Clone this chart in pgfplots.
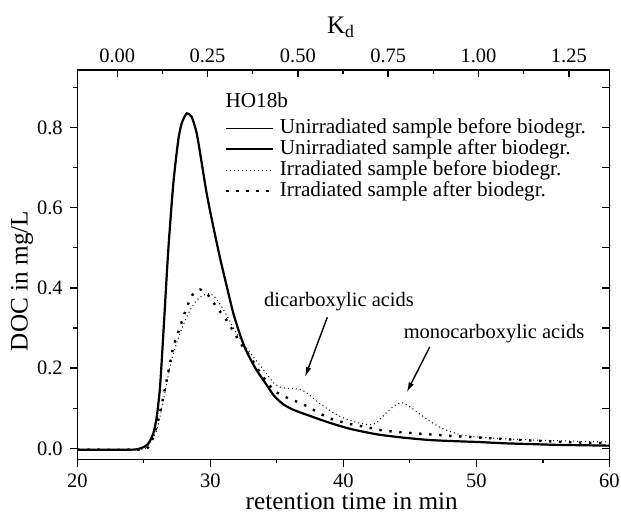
\documentclass[border=0pt]{standalone}
\usepackage{fontspec}
\setmainfont{Liberation Serif}
\usepackage{pgfplots}
\usepackage{pgfplotstable}
\pgfplotsset{compat=1.18}
\usetikzlibrary{arrows.meta}

\newcommand{\tickfont}{\fontsize{10.25}{12}\selectfont}
\newcommand{\legfont}{\fontsize{10.6}{12}\selectfont}
\newcommand{\labfont}{\fontsize{12.6}{14}\selectfont}

\pgfplotstableread{
t v
20 -0.003
22 -0.003
24 -0.003
24.5 -0.002
24.96 0.003
25.34 0.012
25.71 0.037
25.97 0.078
26.22 0.153
26.47 0.286
26.84 0.494
27.22 0.660
27.59 0.768
27.85 0.810
28.23 0.835
28.6 0.826
28.98 0.785
29.35 0.712
29.73 0.635
30.23 0.552
30.73 0.475
31.23 0.405
31.73 0.337
32.23 0.284
32.6 0.251
32.98 0.225
33.5 0.194
34.24 0.158
34.8 0.131
35.49 0.110
36.2 0.097
36.74 0.090
37.5 0.081
38.25 0.072
39.25 0.061
40.5 0.049
41.76 0.040
42.76 0.034
44.5 0.027
46.5 0.021
48.5 0.018
50.2 0.016
52 0.013
54 0.011
56 0.009
58 0.008
60 0.007
}\unirrbefore

\pgfplotstableread{
t v
20 -0.003
22 -0.003
24 -0.003
24.5 -0.002
24.96 0.003
25.34 0.012
25.71 0.037
25.97 0.078
26.22 0.153
26.47 0.286
26.84 0.494
27.22 0.660
27.59 0.768
27.85 0.810
28.23 0.835
28.6 0.826
28.98 0.785
29.35 0.712
29.73 0.635
30.23 0.552
30.73 0.475
31.23 0.405
31.73 0.337
32.23 0.284
32.6 0.251
32.98 0.225
33.5 0.194
34.24 0.158
34.8 0.131
35.49 0.110
36.2 0.097
36.74 0.090
37.5 0.081
38.25 0.072
39.25 0.061
40.5 0.049
41.76 0.040
42.76 0.034
44.5 0.027
46.5 0.021
48.5 0.018
50.2 0.016
52 0.013
54 0.011
56 0.009
58 0.008
60 0.007
}\unirrafter

\pgfplotstableread{
t v
20 -0.003
24 -0.003
25.0 -0.002
25.47 0.015
25.97 0.045
26.47 0.120
26.97 0.203
27.35 0.250
27.72 0.286
28.1 0.318
28.47 0.344
28.85 0.364
29.23 0.377
29.6 0.384
29.98 0.386
30.35 0.377
30.73 0.360
31.23 0.332
31.73 0.301
32.48 0.262
33.23 0.228
33.74 0.207
34.24 0.186
34.74 0.164
35.24 0.153
35.74 0.150
36.24 0.149
36.74 0.147
37.2 0.140
37.6 0.129
38.1 0.115
38.75 0.100
39.3 0.088
39.75 0.080
40.5 0.070
41.25 0.063
42.0 0.059
42.5 0.064
42.9 0.078
43.5 0.097
44.0 0.110
44.4 0.114
44.8 0.108
45.3 0.097
46.0 0.080
46.5 0.068
47.2 0.054
47.8 0.045
48.5 0.037
49.0 0.033
50.0 0.029
51.5 0.025
53.5 0.022
55.3 0.020
57.5 0.018
60 0.016
}\irrbefore

\pgfplotstableread{
t v
20 -0.003
24 -0.003
25.2 -0.001
25.71 0.028
26.22 0.090
26.72 0.170
27.22 0.253
27.72 0.302
28.23 0.352
28.72 0.386
29.23 0.396
29.73 0.386
30.1 0.370
30.48 0.352
31.23 0.319
31.98 0.278
32.48 0.252
32.98 0.230
33.48 0.203
33.98 0.178
34.74 0.146
35.24 0.135
35.74 0.127
36.4 0.118
36.99 0.110
37.6 0.099
38.25 0.087
39.0 0.075
39.75 0.067
40.8 0.059
41.76 0.053
42.76 0.046
43.76 0.042
45.3 0.038
47.8 0.032
50.3 0.027
52.8 0.022
55.3 0.018
57.5 0.015
60 0.013
}\irrafter

\begin{document}
\begin{tikzpicture}
\begin{axis}[
  at={(0,0)}, anchor=south west,
  scale only axis, width=266pt, height=194.65pt,
  xmin=20, xmax=60, ymin=-0.027, ymax=0.943,
  axis line style={line width=0.75pt},
  tick style={line width=0.7pt, black},
  tick align=outside,
  xtick pos=left, ytick pos=left,
  xtick={20,30,40,50,60}, xticklabels={20,30,40,50,60},
  minor xtick={25,35,45,55},
  ytick={0,0.2,0.4,0.6,0.8}, yticklabels={0.0,0.2,0.4,0.6,0.8},
  minor ytick={0.1,0.3,0.5,0.7,0.9},
  major tick length=3.8pt, minor tick length=2pt,
  ticklabel style={font=\tickfont},
  xlabel={retention time in min},
  ylabel={DOC in mg/L},
  xlabel style={font=\labfont, at={(axis description cs:0.5158,-0.1284)}, anchor=base},
  ylabel style={font=\labfont, at={(axis description cs:-0.1039,0.458)}, anchor=center, rotate=0},
  legend cell align=left,
  legend image code/.code={\draw (0pt,0pt) -- (23.35pt,0pt);},
  legend style={at={(axis cs:31.12,0.824)}, anchor=north west, draw=none, fill=none,
    inner sep=0pt, outer sep=0pt, font=\legfont, row sep=0pt,
    nodes={inner sep=0.5pt, text height=7.3pt, text depth=2.2pt},
    /tikz/every odd column/.append style={column sep=2.3pt}},
]
\addplot[black, line width=0.5pt, smooth, tension=0.4] table[x=t,y=v]{\unirrbefore};
\addlegendentry{Unirradiated sample before biodegr.}
\addplot[black, line width=1.1pt, smooth, tension=0.4] table[x=t,y=v]{\unirrafter};
\addlegendentry{Unirradiated sample after biodegr.}
\addplot[black, line width=0.5pt, dash pattern=on 0.5pt off 1.5pt, smooth, tension=0.4] table[x=t,y=v]{\irrbefore};
\addlegendentry{Irradiated sample before biodegr.}
\addplot[black, line width=1.2pt, dash pattern=on 1.2pt off 3.8pt, smooth, tension=0.4] table[x=t,y=v]{\irrafter};
\addlegendentry{Irradiated sample after biodegr.}

\node[anchor=west, inner sep=0pt, font=\legfont] at (axis cs:31.12,0.867) {HO18b};
\node[font=\tickfont, inner sep=0pt] at (axis cs:39.68,0.367) {dicarboxylic acids};
\node[font=\tickfont, inner sep=0pt] at (axis cs:51.33,0.286) {monocarboxylic acids};
\draw[line width=0.7pt, -{Latex[length=5pt,width=2.8pt]}] (axis cs:38.8,0.327) -- (axis cs:37.12,0.178);
\draw[line width=0.7pt, -{Latex[length=5pt,width=2.8pt]}] (axis cs:46.5,0.253) -- (axis cs:44.77,0.140);
\end{axis}

\begin{axis}[
  at={(0,0)}, anchor=south west,
  scale only axis, width=266pt, height=194.65pt,
  xmin=-0.1105, xmax=1.362, ymin=-0.027, ymax=0.943,
  axis line style={line width=0.75pt},
  tick style={line width=0.7pt, black},
  tick align=inside,
  xtick pos=right, ytick pos=right, xticklabel pos=right,
  xtick={0,0.25,0.5,0.75,1,1.25}, xticklabels={0.00,0.25,0.50,0.75,1.00,1.25},
  minor xtick={0.125,0.375,0.625,0.875,1.125},
  ytick={0,0.1,0.2,0.3,0.4,0.5,0.6,0.7,0.8,0.9}, yticklabels={},
  major tick length=3.5pt, minor tick length=2pt,
  ticklabel style={font=\tickfont},
  xlabel={K\textsubscript{d}},
  xlabel style={font=\labfont, at={(axis description cs:0.4957,1.0925)}, anchor=base},
]
\end{axis}
\pgfresetboundingbox
\path[use as bounding box] (-38.65pt,-29.35pt) rectangle (271.85pt,229.65pt);
\end{tikzpicture}
\end{document}
